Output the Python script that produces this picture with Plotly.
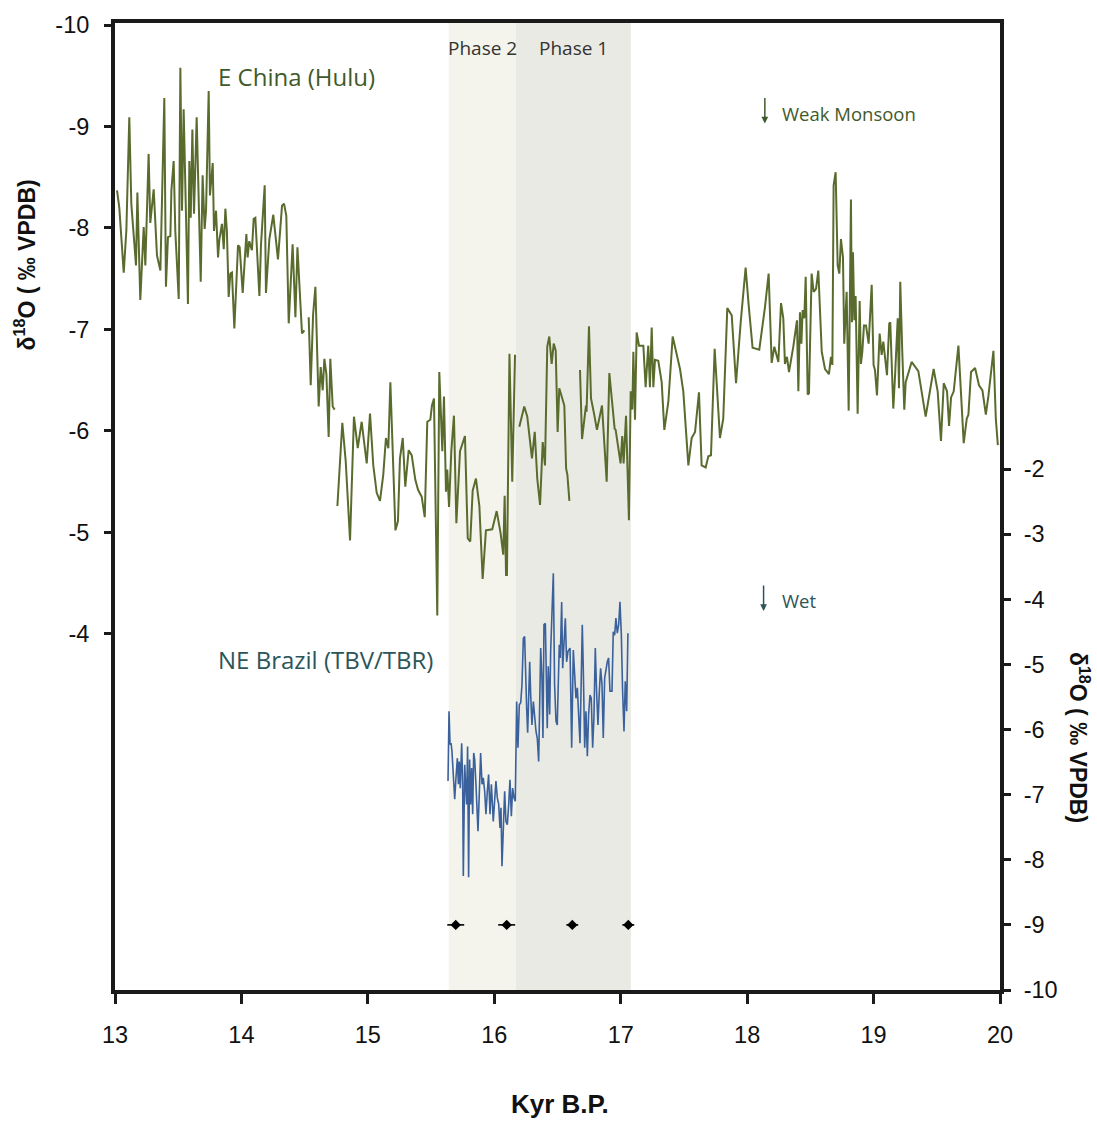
import plotly.graph_objects as go

# Hulu Cave (E China) speleothem d18O, kyr B.P.; None marks breaks in the record
hulu_age = [
    13.016, 13.034, 13.069, 13.090, 13.113, 13.129, 13.166, 13.177, 13.200, 13.227,
    13.240, 13.266, 13.279, 13.306, 13.332, 13.359, 13.390, 13.403, 13.419, 13.438,
    13.446, 13.464, 13.477, 13.504, 13.517, 13.530, 13.543, 13.562, 13.577, 13.588,
    13.599, 13.612, 13.625, 13.646, 13.662, 13.678, 13.693, 13.709, 13.720, 13.741,
    13.751, 13.773, 13.783, 13.799, 13.815, 13.825, 13.846, 13.860, 13.873, 13.885,
    13.899, 13.912, 13.925, 13.944, 13.973, 13.986, 14.010, 14.039, 14.049, 14.062,
    14.083, 14.097, 14.110, 14.142, 14.155, 14.184, 14.194, 14.221, 14.252, 14.289,
    14.321, 14.337, 14.355, 14.374, 14.405, 14.427, 14.443, 14.479, 14.498, None,
    14.532, 14.548, 14.567, 14.585, 14.611, 14.627, 14.643, 14.656, 14.672, 14.690,
    14.703, 14.722, 14.737, None,
    14.759, 14.798, 14.825, 14.859, 14.890, 14.920, 14.951, 14.991, 15.017, 15.043,
    15.070, 15.096, 15.122, 15.143, 15.162, 15.178, 15.218, 15.238, 15.254, 15.276,
    15.296, 15.323, 15.347, 15.375, 15.397, 15.426, 15.450, 15.470, 15.494, 15.507,
    15.523, 15.549, 15.565, 15.589, 15.602, 15.618, 15.628, 15.642, 15.660, 15.681,
    15.700, 15.729, 15.768, 15.790, 15.810, 15.829, 15.855, 15.882, 15.908, 15.934,
    15.984, 16.019, 16.050, 16.071, 16.082, 16.093, 16.100, 16.116, 16.120, 16.142,
    16.164, None,
    16.198, 16.237, 16.261, 16.298, 16.320, 16.340, 16.362, 16.383, 16.401, 16.419,
    16.435, 16.454, 16.470, 16.486, 16.501, 16.514, 16.554, 16.568, 16.578, 16.594,
    None,
    16.678, 16.694, 16.725, 16.730, 16.749, 16.765, 16.789, 16.812, 16.852, 16.889,
    16.910, 16.931, 16.952, 16.960, 16.986, 16.999, 17.012, 17.023, 17.042, 17.050,
    17.065, 17.079, 17.091, 17.100, 17.113, 17.126, 17.145, 17.179, 17.197, 17.218,
    17.231, 17.245, 17.258, 17.271, 17.297, 17.324, 17.345, 17.377, 17.411, 17.469,
    17.495, 17.535, 17.561, 17.588, 17.619, 17.640, 17.672, 17.693, 17.714, 17.743,
    17.759, 17.785, 17.811, 17.843, 17.878, 17.912, 17.949, 17.988, 18.012, 18.043,
    18.096, 18.141, 18.170, 18.194, 18.215, 18.247, 18.268, 18.286, 18.299, 18.315,
    18.331, 18.365, 18.394, 18.405, 18.418, 18.429, 18.439, 18.452, 18.463, 18.479,
    18.489, 18.510, 18.526, 18.545, 18.563, 18.590, 18.616, 18.647, 18.663, 18.674,
    18.684, 18.700, 18.716, 18.729, 18.742, 18.758, 18.768, 18.787, 18.803, 18.821,
    18.829, 18.837, 18.848, 18.858, 18.874, 18.890, 18.900, 18.911, 18.924, 18.940,
    18.961, 18.985, 19.000, 19.011, 19.027, 19.048, 19.064, 19.077, 19.106, 19.124,
    19.132, 19.156, 19.169, 19.191, 19.201, 19.211, 19.227, 19.243, 19.254, 19.301,
    19.354, 19.412, 19.475, 19.507, 19.533, 19.555, 19.581, 19.597, 19.613, 19.634,
    19.671, 19.713, 19.737, 19.750, 19.771, 19.803, 19.834, 19.861, 19.888, 19.909,
    19.948, 19.967, 19.983,
]
hulu_d18o = [
    -8.37, -8.20, -7.56, -7.98, -9.09, -8.24, -7.63, -8.35, -7.29, -8.01,
    -7.63, -8.73, -8.05, -8.38, -7.73, -7.58, -9.28, -7.42, -7.91, -7.92,
    -8.37, -8.66, -7.97, -7.30, -9.58, -8.17, -9.17, -8.10, -7.25, -8.66,
    -8.10, -8.97, -8.14, -9.09, -8.24, -7.47, -8.52, -7.99, -8.17, -9.35,
    -8.32, -8.64, -7.97, -8.17, -7.71, -7.88, -8.04, -7.79, -8.19, -7.97,
    -7.32, -7.55, -7.56, -7.01, -7.83, -7.81, -7.36, -7.94, -7.71, -7.87,
    -7.78, -8.09, -8.10, -7.33, -7.84, -8.42, -7.36, -7.89, -8.13, -7.69,
    -8.22, -8.24, -8.12, -7.06, -7.84, -7.12, -7.81, -6.96, -6.99, None,
    -7.12, -6.45, -7.15, -7.42, -6.24, -6.63, -6.40, -6.71, -6.56, -5.94,
    -6.71, -6.24, -6.21, None,
    -5.26, -6.08, -5.70, -4.92, -6.14, -5.83, -6.09, -5.68, -6.17, -5.66,
    -5.39, -5.31, -5.57, -5.93, -5.83, -6.48, -5.02, -5.11, -5.73, -5.93,
    -5.45, -5.81, -5.76, -5.52, -5.42, -5.35, -5.15, -6.09, -6.11, -6.25,
    -6.32, -4.18, -6.58, -5.80, -6.34, -5.40, -5.62, -5.25, -5.80, -6.15,
    -5.09, -5.80, -5.95, -4.94, -4.91, -5.41, -5.53, -5.26, -4.54, -5.02,
    -5.03, -5.21, -4.99, -4.78, -5.36, -4.58, -4.58, -6.75, -6.76, -5.50,
    -6.75, None,
    -6.04, -6.24, -6.14, -5.73, -5.99, -5.53, -5.27, -5.89, -5.66, -6.83,
    -6.93, -6.66, -6.86, -6.79, -5.99, -6.42, -6.25, -5.63, -5.57, -5.31,
    None,
    -6.60, -5.92, -6.25, -6.19, -7.03, -6.32, -6.17, -6.01, -6.25, -5.50,
    -6.57, -6.31, -6.02, -6.01, -5.76, -5.68, -5.95, -5.68, -6.15, -5.72,
    -5.12, -6.39, -6.21, -6.78, -6.11, -6.97, -6.84, -6.84, -6.43, -6.84,
    -6.43, -7.02, -6.43, -6.70, -6.69, -6.48, -6.01, -6.29, -6.93, -6.61,
    -6.39, -5.66, -5.93, -5.99, -6.38, -5.66, -5.64, -5.75, -5.76, -6.81,
    -6.45, -5.93, -6.12, -7.21, -7.14, -6.47, -7.07, -7.61, -7.24, -6.82,
    -6.80, -7.22, -7.55, -6.67, -6.83, -6.68, -7.26, -7.11, -6.66, -6.73,
    -6.58, -6.83, -7.09, -6.39, -7.17, -6.86, -7.19, -7.11, -7.52, -6.36,
    -6.37, -7.55, -7.37, -7.40, -7.58, -6.78, -6.61, -6.56, -6.73, -6.65,
    -8.42, -8.55, -7.63, -7.55, -7.89, -7.71, -6.86, -7.37, -6.20, -8.28,
    -7.07, -7.76, -7.09, -7.33, -6.17, -7.28, -6.66, -6.78, -7.04, -7.04,
    -6.86, -7.44, -6.65, -6.60, -6.35, -6.96, -6.75, -6.88, -6.55, -7.06,
    -7.07, -6.22, -6.52, -7.11, -6.42, -7.47, -6.78, -6.21, -6.48, -6.68,
    -6.59, -6.14, -6.61, -6.39, -5.90, -6.47, -6.39, -6.05, -6.33, -6.39,
    -6.84, -5.88, -6.12, -6.16, -6.58, -6.62, -6.45, -6.40, -6.16, -6.35,
    -6.79, -6.12, -5.86,
]

# NE Brazil (TBV/TBR) speleothem d18O
brazil_age = [
    15.634, 15.642, 15.650, 15.658, 15.665, 15.676, 15.687, 15.697, 15.708, 15.716,
    15.723, 15.731, 15.742, 15.750, 15.755, 15.766, 15.774, 15.781, 15.789, 15.797,
    15.805, 15.813, 15.821, 15.829, 15.837, 15.845, 15.855, 15.871, 15.882, 15.892,
    15.903, 15.913, 15.924, 15.934, 15.945, 15.955, 15.966, 15.977, 15.992, 16.003,
    16.013, 16.024, 16.035, 16.045, 16.053, 16.061, 16.071, 16.082, 16.092, 16.103,
    16.114, 16.124, 16.135, 16.145, 16.156, 16.166, 16.177, 16.187, 16.198, 16.209,
    16.219, 16.230, 16.240, 16.248, 16.256, 16.264, 16.272, 16.280, 16.288, 16.298,
    16.309, 16.319, 16.330, 16.340, 16.351, 16.367, 16.377, 16.385, 16.393, 16.404,
    16.412, 16.419, 16.427, 16.438, 16.446, 16.454, 16.467, 16.477, 16.488, 16.498,
    16.506, 16.514, 16.522, 16.533, 16.541, 16.551, 16.562, 16.572, 16.583, 16.599,
    16.612, 16.625, 16.636, 16.646, 16.657, 16.667, 16.678, 16.688, 16.696, 16.704,
    16.715, 16.725, 16.736, 16.746, 16.757, 16.767, 16.778, 16.788, 16.799, 16.809,
    16.820, 16.831, 16.841, 16.852, 16.862, 16.873, 16.883, 16.894, 16.904, 16.915,
    16.931, 16.941, 16.952, 16.962, 16.973, 16.984, 16.994, 17.005, 17.015, 17.026,
    17.036, 17.047, 17.057,
]
brazil_d18o = [
    -6.79, -5.72, -6.23, -6.21, -6.33, -6.79, -7.07, -6.74, -6.44, -6.84,
    -6.49, -6.90, -6.21, -6.84, -8.25, -6.54, -6.84, -7.15, -6.26, -8.27,
    -6.46, -7.15, -6.59, -7.30, -6.36, -6.46, -6.84, -7.56, -6.95, -6.36,
    -6.84, -6.74, -6.95, -7.30, -6.95, -6.69, -7.30, -6.84, -7.41, -7.00,
    -6.79, -7.05, -7.15, -7.51, -7.20, -8.10, -7.36, -6.95, -7.41, -7.46,
    -7.15, -6.77, -7.33, -6.90, -7.05, -7.10, -5.57, -6.28, -5.62, -5.59,
    -5.31, -4.60, -4.57, -5.36, -5.67, -6.05, -5.31, -4.96, -5.47, -5.93,
    -5.57, -5.87, -6.03, -6.13, -6.49, -4.75, -5.21, -6.13, -4.39, -4.37,
    -5.31, -5.98, -5.03, -5.77, -4.80, -4.29, -3.60, -5.31, -5.87, -5.93,
    -5.21, -4.70, -4.90, -4.04, -5.06, -4.70, -4.29, -4.96, -4.80, -4.75,
    -6.28, -4.78, -5.31, -5.52, -5.36, -5.82, -6.21, -5.21, -4.39, -5.06,
    -6.28, -5.72, -6.41, -5.77, -5.47, -5.52, -6.28, -5.82, -4.75, -5.41,
    -5.93, -5.41, -5.06, -5.31, -6.13, -5.21, -5.06, -4.96, -4.90, -5.41,
    -5.41, -4.50, -4.55, -4.29, -4.52, -4.39, -4.04, -4.55, -5.41, -6.03,
    -5.26, -5.72, -4.52,
]

# U-Th dates with 2-sigma errors (kyr), plotted at -9 on the right axis
date_age = [15.695, 16.098, 16.617, 17.060]
date_err = [0.067, 0.067, 0.047, 0.047]
date_level = [-9, -9, -9, -9]

# Phase intervals (kyr B.P.)
phase_names = ["Phase 2", "Phase 1"]
phase_start = [15.64, 16.17]
phase_end = [16.17, 17.08]
phase_fill = ["#f4f4ec", "#eaeae4"]

left_ticks = [-10, -9, -8, -7, -6, -5, -4]
right_ticks = [-10, -9, -8, -7, -6, -5, -4, -3, -2]
x_ticks = [13, 14, 15, 16, 17, 18, 19, 20]

HULU = "#5a6b2e"
BRAZIL = "#3a619b"
GREEN_TEXT = "#3f5a2a"
TEAL_TEXT = "#2b5558"
TICK_FONT = dict(family="Liberation Sans Narrow, Arial Narrow, Liberation Sans", size=23.5, color="#111")
LABEL_FONT = "Open Sans, Noto Sans, sans-serif"
TITLE_FONT = dict(family="Liberation Sans, Arial", size=23, color="#111")


def hyphen_labels(vals):
    return ["%d" % v for v in vals]


fig = go.Figure()

fig.add_trace(go.Scatter(
    x=hulu_age, y=hulu_d18o, mode="lines", connectgaps=False,
    line=dict(color=HULU, width=2), yaxis="y", showlegend=False,
))
fig.add_trace(go.Scatter(
    x=brazil_age, y=brazil_d18o, mode="lines",
    line=dict(color=BRAZIL, width=1.6), yaxis="y2", showlegend=False,
))
fig.add_trace(go.Scatter(
    x=date_age, y=date_level, mode="markers", yaxis="y2", showlegend=False,
    marker=dict(symbol="diamond", size=8, color="black"),
    error_x=dict(type="data", array=date_err, color="black", thickness=1.6, width=0),
))

shapes = []
for s, e, c in zip(phase_start, phase_end, phase_fill):
    shapes.append(dict(type="rect", xref="x", yref="paper", x0=s, x1=e, y0=0, y1=1,
                       fillcolor=c, line=dict(width=0), layer="below"))


def label(x, y, text, size, color, xanchor="left"):
    return dict(x=x, y=y, xref="x", yref="paper", xanchor=xanchor, yanchor="middle",
                text=text, showarrow=False,
                font=dict(family=LABEL_FONT, size=size, color=color))


def down_arrow(x, y_tip, color):
    return dict(x=x, y=y_tip, xref="x", yref="paper", text="", showarrow=True,
                ax=0, ay=-27, arrowhead=2, arrowsize=0.9, arrowwidth=1.5, arrowcolor=color)


annotations = []
for name, s, e in zip(phase_names, phase_start, phase_end):
    annotations.append(label((s + e) / 2, 0.974, name, 19, "#333", xanchor="center"))
annotations += [
    label(13.80, 0.945, "E China (Hulu)", 24, GREEN_TEXT),
    label(18.26, 0.906, "Weak Monsoon", 18.5, GREEN_TEXT),
    down_arrow(18.14, 0.896, GREEN_TEXT),
    label(18.26, 0.403, "Wet", 18.5, TEAL_TEXT),
    down_arrow(18.13, 0.392, TEAL_TEXT),
    label(13.80, 0.342, "NE Brazil (TBV/TBR)", 24, TEAL_TEXT),
    dict(x=-0.102, y=0.750, xref="paper", yref="paper", xanchor="center", yanchor="middle",
         textangle=-90, text="<b>δ<sup>18</sup>O ( ‰ VPDB)</b>", showarrow=False, font=TITLE_FONT),
    dict(x=1.090, y=0.261, xref="paper", yref="paper", xanchor="center", yanchor="middle",
         textangle=90, text="<b>δ<sup>18</sup>O ( ‰ VPDB)</b>", showarrow=False, font=TITLE_FONT),
    dict(x=0.503, y=-0.118, xref="paper", yref="paper", xanchor="center", yanchor="middle",
         text="<b>Kyr B.P.</b>", showarrow=False,
         font=dict(family="Liberation Sans Narrow, Arial Narrow, Liberation Sans", size=26, color="#111")),
]

axis_line = dict(showgrid=False, zeroline=False, showline=True, linecolor="#1a1a1a", linewidth=4,
                 ticks="outside", tickwidth=3, tickcolor="#1a1a1a", tickfont=TICK_FONT)

fig.update_layout(
    width=1097, height=1122,
    margin=dict(l=115, r=97, t=20, b=132),
    paper_bgcolor="white", plot_bgcolor="white",
    shapes=shapes, annotations=annotations,
    xaxis=dict(range=[13, 20], tickvals=x_ticks, ticktext=hyphen_labels(x_ticks),
               mirror=True, ticklen=10, ticklabelstandoff=11, **axis_line),
    yaxis=dict(range=[-0.49, -10.02], tickvals=left_ticks, ticktext=hyphen_labels(left_ticks),
               ticklen=7, ticklabelstandoff=10, **axis_line),
    yaxis2=dict(range=[-10, 4.85], tickvals=right_ticks, ticktext=hyphen_labels(right_ticks),
                overlaying="y", side="right", ticklen=7, ticklabelstandoff=8, **axis_line),
)

fig.write_html("out.html")
